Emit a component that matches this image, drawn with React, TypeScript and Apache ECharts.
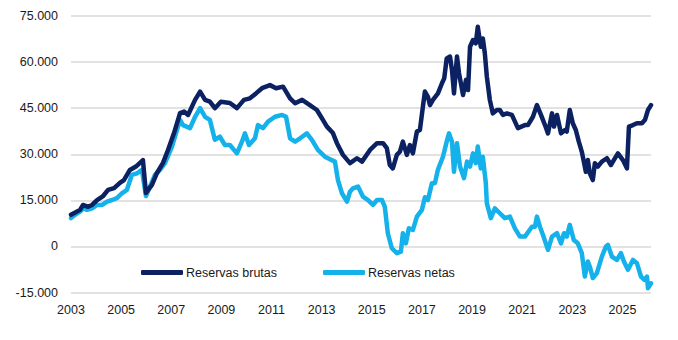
import React, { useEffect, useRef } from "react";
import * as echarts from "echarts";

const yTicks = [-15000, 0, 15000, 30000, 45000, 60000, 75000];
const xLabelYears = [2003, 2005, 2007, 2009, 2011, 2013, 2015, 2017, 2019, 2021, 2023, 2025];
const seriesNames = ["Reservas brutas", "Reservas netas"];

const brutasDates = [
  2003.0, 2003.36, 2003.48, 2003.68, 2003.84, 2004.04, 2004.28, 2004.48, 2004.72, 2004.95,
  2005.11, 2005.35, 2005.59, 2005.87, 2005.99, 2006.23, 2006.43, 2006.67, 2006.87, 2007.11,
  2007.35, 2007.51, 2007.67, 2007.95, 2008.15, 2008.35, 2008.54, 2008.74, 2008.98, 2009.34,
  2009.62, 2009.9, 2010.14, 2010.38, 2010.62, 2010.94, 2011.18, 2011.46, 2011.74, 2011.94,
  2012.22, 2012.53, 2012.81, 2013.05, 2013.21, 2013.45, 2013.61, 2013.85, 2014.13, 2014.41,
  2014.61, 2014.93, 2015.21, 2015.45, 2015.6, 2015.72, 2015.84, 2016.0, 2016.12, 2016.24,
  2016.4, 2016.52, 2016.64, 2016.8, 2016.92, 2017.04, 2017.12, 2017.24, 2017.32, 2017.44,
  2017.64, 2017.8, 2017.89, 2017.99, 2018.12, 2018.2, 2018.28, 2018.4, 2018.48, 2018.64,
  2018.76, 2018.84, 2018.92, 2019.04, 2019.15, 2019.23, 2019.35, 2019.43, 2019.51, 2019.59,
  2019.71, 2019.83, 2019.99, 2020.11, 2020.23, 2020.39, 2020.59, 2020.83, 2021.11, 2021.23,
  2021.43, 2021.59, 2021.75, 2021.91, 2022.03, 2022.19, 2022.27, 2022.39, 2022.55, 2022.71,
  2022.78, 2022.9, 2023.02, 2023.14, 2023.26, 2023.38, 2023.46, 2023.54, 2023.62, 2023.7,
  2023.82, 2023.9, 2024.02, 2024.18, 2024.38, 2024.54, 2024.62, 2024.82, 2025.02, 2025.18,
  2025.26, 2025.42, 2025.58, 2025.78, 2025.9, 2026.02, 2026.14,
];
const brutasValues = [
  10300, 11900, 13500, 12900, 13500, 15100, 16400, 18400, 19000, 20700,
  21600, 24900, 26000, 28100, 17400, 20000, 23900, 27200, 31400, 36900,
  43400, 43900, 42800, 47700, 50400, 47700, 47100, 45000, 47100, 46700,
  45000, 47700, 48200, 49800, 51500, 52500, 51500, 52000, 48200, 46600,
  47700, 46000, 44400, 41200, 39000, 36900, 33600, 29800, 27100, 28700,
  27600, 31400, 33600, 33600, 32000, 26500, 25400, 29800, 30800, 34100,
  29800, 33000, 30300, 37400, 37900, 45500, 50400, 48700, 46000, 47700,
  49800, 53100, 54700, 61200, 61800, 57400, 49800, 61800, 56400, 49300,
  54200, 50900, 65000, 67200, 66100, 71500, 65000, 67700, 62900, 55300,
  47700, 43300, 44400, 44400, 42800, 43300, 42800, 38500, 39500, 39500,
  42200, 46000, 42800, 39500, 36800, 43300, 39000, 42800, 36800, 37900,
  37400, 44400, 40100, 37900, 34100, 30800, 27600, 24300, 28100, 23800,
  21600, 27100, 26000, 27600, 28700, 26500, 27600, 30300, 28100, 25400,
  39000, 39500, 40100, 40100, 41200, 44400, 46000,
];

const netasDates = [
  2003.0, 2003.16, 2003.36, 2003.48, 2003.64, 2003.84, 2004.04, 2004.24, 2004.44, 2004.64,
  2004.83, 2005.03, 2005.23, 2005.43, 2005.63, 2005.83, 2005.99, 2006.15, 2006.35, 2006.55,
  2006.75, 2007.03, 2007.35, 2007.47, 2007.75, 2007.95, 2008.15, 2008.35, 2008.54, 2008.74,
  2008.94, 2009.14, 2009.34, 2009.62, 2009.82, 2009.94, 2010.1, 2010.34, 2010.46, 2010.66,
  2010.86, 2011.14, 2011.42, 2011.58, 2011.74, 2011.94, 2012.14, 2012.41, 2012.61, 2012.85,
  2013.13, 2013.33, 2013.53, 2013.65, 2013.81, 2014.01, 2014.13, 2014.25, 2014.45, 2014.65,
  2014.85, 2015.05, 2015.21, 2015.41, 2015.52, 2015.64, 2015.8, 2016.0, 2016.16, 2016.24,
  2016.36, 2016.48, 2016.64, 2016.8, 2017.0, 2017.12, 2017.24, 2017.4, 2017.52, 2017.64,
  2017.84, 2017.99, 2018.08, 2018.2, 2018.28, 2018.4, 2018.52, 2018.68, 2018.8, 2018.92,
  2019.04, 2019.15, 2019.23, 2019.35, 2019.43, 2019.55, 2019.59, 2019.75, 2019.91, 2020.11,
  2020.31, 2020.51, 2020.71, 2020.91, 2021.11, 2021.39, 2021.51, 2021.59, 2021.71, 2021.83,
  2022.03, 2022.19, 2022.39, 2022.55, 2022.67, 2022.78, 2022.9, 2023.06, 2023.22, 2023.38,
  2023.5, 2023.62, 2023.7, 2023.82, 2023.98, 2024.18, 2024.34, 2024.42, 2024.58, 2024.78,
  2024.94, 2025.06, 2025.22, 2025.42, 2025.58, 2025.74, 2025.88, 2025.98, 2026.02, 2026.14,
];
const netasValues = [
  9200, 10300, 11300, 12400, 11900, 12400, 13500, 13500, 14600, 15100,
  15700, 17300, 18400, 23300, 23800, 24900, 16400, 19500, 23300, 24900,
  27100, 32500, 41200, 39500, 38500, 42200, 45000, 42200, 41200, 34700,
  35700, 33000, 33000, 30300, 34100, 36800, 33000, 35200, 39500, 38500,
  40600, 42200, 42800, 42200, 35200, 34100, 35200, 36800, 34700, 31400,
  29200, 28400, 27600, 21600, 17300, 14600, 17800, 18900, 19500, 16200,
  15100, 13500, 15100, 15100, 12900, 4300, -600, -2200, -1700, 4300,
  1000, 5900, 5400, 9700, 11900, 16000, 15100, 20600, 20600, 25000,
  29200, 34100, 36800, 34100, 24300, 33600, 26000, 22200, 27600, 26000,
  30300, 27100, 32500, 25400, 29200, 20600, 14100, 9200, 12400, 10800,
  9200, 9700, 5900, 3200, 3200, 6400, 6400, 9700, 6400, 3700,
  -1100, 3200, 4300, 1000, 4300, 3200, 7000, 2100, 1000, -2200,
  -9800, -4900, -6600, -10300, -8700, -3300, -100, 500, -3300, -4400,
  -2200, -4900, -7600, -4400, -5500, -9800, -10900, -9800, -13600, -12000,
];

const startYear = 2003;
const endYear = 2026.14;

const fmtThousands = (v: number) => {
  const s = Math.abs(v).toString().replace(/\B(?=(\d{3})+(?!\d))/g, ".");
  return (v < 0 ? "-" : "") + s;
};

export default function App() {
  const ref = useRef<HTMLDivElement>(null);
  useEffect(() => {
    if (!ref.current) return;
    const chart = echarts.init(ref.current, null, { renderer: "svg" });
    const toPairs = (d: number[], v: number[]) => d.map((x, i) => [x - startYear, v[i]]);
    const font = "'Liberation Sans', Arial, sans-serif";
    chart.setOption({
      animation: false,
      backgroundColor: "#ffffff",
      grid: { left: 71, right: 27, top: 16, bottom: 47.5, containLabel: false },
      legend: {
        data: seriesNames,
        left: 141,
        top: 266,
        padding: 0,
        icon: "roundRect",
        itemWidth: 42,
        itemHeight: 5,
        itemGap: 46,
        textStyle: { fontFamily: font, fontSize: 12.5, color: "#1a1a1a", padding: [0, 0, 0, -2] },
      },
      xAxis: {
        type: "value",
        min: 0,
        max: endYear - startYear,
        interval: 2,
        axisLine: { show: false },
        axisTick: { show: false },
        splitLine: { show: false },
        axisLabel: {
          showMaxLabel: false,
          margin: 11,
          fontFamily: font,
          fontSize: 12.5,
          color: "#1a1a1a",
          formatter: (v: number) => {
            const y = Math.round(v + startYear);
            return xLabelYears.includes(y) && Math.abs(v + startYear - y) < 1e-6 ? String(y) : "";
          },
        },
      },
      yAxis: {
        type: "value",
        min: yTicks[0],
        max: yTicks[yTicks.length - 1],
        interval: 15000,
        axisLine: { show: false },
        axisTick: { show: false },
        splitLine: { lineStyle: { color: "#d9d9d9", width: 1.5 } },
        axisLabel: {
          margin: 13,
          fontFamily: font,
          fontSize: 12.5,
          color: "#1a1a1a",
          formatter: (v: number) => fmtThousands(v),
        },
      },
      series: [
        {
          name: seriesNames[0],
          type: "line",
          data: toPairs(brutasDates, brutasValues),
          showSymbol: false,
          symbol: "none",
          color: "#0b2161",
          lineStyle: { width: 4.5, color: "#0b2161", join: "round", cap: "round" },
          z: 3,
        },
        {
          name: seriesNames[1],
          type: "line",
          data: toPairs(netasDates, netasValues),
          showSymbol: false,
          symbol: "none",
          color: "#14b1ea",
          lineStyle: { width: 4.5, color: "#14b1ea", join: "round", cap: "round" },
          z: 2,
        },
      ],
    });
    return () => chart.dispose();
  }, []);
  return (
    <div
      ref={ref}
      style={{ position: "fixed", left: 0, top: 0, width: 678, height: 340, background: "#fff" }}
    />
  );
}
